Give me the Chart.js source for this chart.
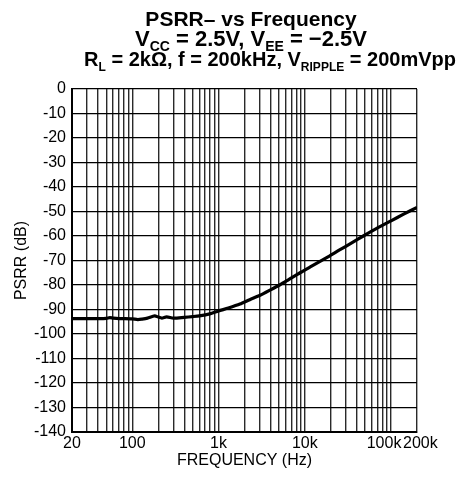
<!DOCTYPE html>
<html>
<head>
<meta charset="utf-8">
<script src="https://cdn.jsdelivr.net/npm/chart.js@4/dist/chart.umd.min.js"></script>
<style>
  html, body { margin: 0; padding: 0; background: #fff; }
  #wrap { position: relative; width: 460px; height: 480px; }
</style>
</head>
<body>
<div id="wrap"><canvas id="psrrCanvas" width="460" height="480"></canvas></div>
<script>
// ---------------- Data ------------------------------------------------------
var freqHz = [ 20, 30, 40, 50, 55, 60, 70, 80, 100, 116, 130, 150, 182, 200,
               220, 250, 300, 400, 500, 600, 790, 1000, 1300, 1770, 2300, 3030,
               4000, 5160, 6500, 8810, 12000, 18800, 25000, 35000, 47700, 68200,
               100000, 140000, 200000 ] ;

var psrrDb = [ -93.7, -93.7, -93.7, -93.6, -93.3, -93.5, -93.7, -93.7, -93.8,
               -94.1, -93.9, -93.5, -92.6, -93.1, -93.5, -93.0, -93.5, -93.2,
               -92.9, -92.6, -91.8, -90.6, -89.4, -87.8, -86.0, -84.2, -82.0,
               -79.9, -77.8, -75.0, -72.3, -68.4, -65.8, -62.8, -60.0, -56.9,
               -53.8, -51.1, -48.3 ] ;

var xLabelValues = [ 20, 100, 1000, 10000, 100000, 200000 ] ;
var xLabelText   = [ '20', '100', '1k', '10k', '100k', '200k' ] ;

var titleLines = [
    [ [ 'PSRR\u2013 vs Frequency', false ] ],
    [ [ 'V', false ], [ 'CC', true ], [ ' = 2.5V, V', false ], [ 'EE', true ],
      [ ' = \u22122.5V', false ] ],
    [ [ 'R', false ], [ 'L', true ], [ ' = 2k\u03A9, f = 200kHz, V', false ],
      [ 'RIPPLE', true ], [ ' = 200mVpp', false ] ]
] ;

// ---------------- Helpers ---------------------------------------------------
var FONT = '"Liberation Sans", Arial, sans-serif' ;

function logGridTicks() {
    var ticks = [] ;
    for( var e = 1; e <= 5; e++ ) {
        for( var m = 1; m <= 9; m++ ) {
            var v = m * Math.pow( 10, e ) ;
            if( v >= 20 && v <= 200000 ) ticks.push( { value : v } ) ;
        }
    }
    return ticks ;
}

var titlePlugin = {
    id : 'titlePlugin',
    afterDraw : function( chart ) {
        var ctx = chart.ctx ;
        var centers   = [ 251, 251, 270 ] ;
        var baselines = [ 26, 46, 66 ] ;
        var mainSize  = [ 21, 22, 20 ] ;
        var subSize   = [ 13, 14, 12 ] ;
        ctx.save() ;
        ctx.fillStyle = '#000' ;
        ctx.textBaseline = 'alphabetic' ;
        ctx.textAlign = 'left' ;
        for( var i = 0; i < titleLines.length; i++ ) {
            var segs = titleLines[i] ;
            var mainFont = 'bold ' + mainSize[i] + 'px ' + FONT ;
            var subFont  = 'bold ' + subSize[i] + 'px ' + FONT ;
            var total = 0 ;
            segs.forEach( function( s ) {
                ctx.font = s[1] ? subFont : mainFont ;
                total += ctx.measureText( s[0] ).width ;
            } ) ;
            var x = centers[i] - total / 2 ;
            segs.forEach( function( s ) {
                ctx.font = s[1] ? subFont : mainFont ;
                ctx.fillText( s[0], x, baselines[i] + ( s[1] ? 5 : 0 ) ) ;
                x += ctx.measureText( s[0] ).width ;
            } ) ;
        }
        ctx.restore() ;
    }
} ;

var xLabelPlugin = {
    id : 'xLabelPlugin',
    afterDraw : function( chart ) {
        var ctx = chart.ctx ;
        var xs = chart.scales.x ;
        var y = chart.chartArea.bottom + 12 ;
        ctx.save() ;
        ctx.font = '16px ' + FONT ;
        ctx.fillStyle = '#000' ;
        ctx.textBaseline = 'middle' ;
        for( var i = 0; i < xLabelValues.length; i++ ) {
            var px = xs.getPixelForValue( xLabelValues[i] ) ;
            if( i == xLabelValues.length - 1 ) {
                ctx.textAlign = 'left' ;
                ctx.fillText( xLabelText[i], px - 14, y ) ;
            }
            else if( i == xLabelValues.length - 2 ) {
                ctx.textAlign = 'center' ;
                ctx.fillText( xLabelText[i], px - 7, y ) ;
            }
            else {
                ctx.textAlign = 'center' ;
                ctx.fillText( xLabelText[i], px, y ) ;
            }
        }
        ctx.restore() ;
    }
} ;

// ---------------- Chart -----------------------------------------------------
Chart.defaults.font.family = FONT ;
Chart.defaults.color = '#000' ;

var points = freqHz.map( function( f, i ) { return { x : f, y : psrrDb[i] } ; } ) ;

var chart = new Chart( document.getElementById( 'psrrCanvas' ), {
    type : 'line',
    data : {
        datasets : [ {
            data        : points,
            borderColor : '#000',
            borderWidth : 3.2,
            pointRadius : 0,
            tension     : 0.25,
            fill        : false
        } ]
    },
    options : {
        responsive : false,
        animation  : false,
        layout : { padding : { top : 89, right : 43, left : 0, bottom : 0 } },
        plugins : {
            legend  : { display : false },
            tooltip : { enabled : false }
        },
        scales : {
            x : {
                type : 'logarithmic',
                min  : 20,
                max  : 200000,
                afterBuildTicks : function( scale ) { scale.ticks = logGridTicks() ; },
                afterFit : function( scale ) { scale.height = 48 ; },
                ticks : { display : false },
                grid  : { color : '#2a2a2a', lineWidth : 1.4, drawTicks : false },
                border : { color : '#000', width : 2 },
                title : {
                    display : true,
                    text    : 'FREQUENCY (Hz)',
                    font    : { size : 16 },
                    padding : { top : 0, bottom : 10 }
                }
            },
            y : {
                min : -140,
                max : 0,
                afterFit : function( scale ) { scale.width = 72 ; },
                ticks : { stepSize : 10, font : { size : 16 }, padding : 6 },
                grid  : { color : '#000', lineWidth : 1.2, drawTicks : false },
                border : { color : '#000', width : 2 },
                title : {
                    display : true,
                    text    : 'PSRR (dB)',
                    font    : { size : 16 },
                    padding : { top : 12, bottom : 0 }
                }
            }
        }
    },
    plugins : [ titlePlugin, xLabelPlugin ]
} ) ;
</script>
</body>
</html>
